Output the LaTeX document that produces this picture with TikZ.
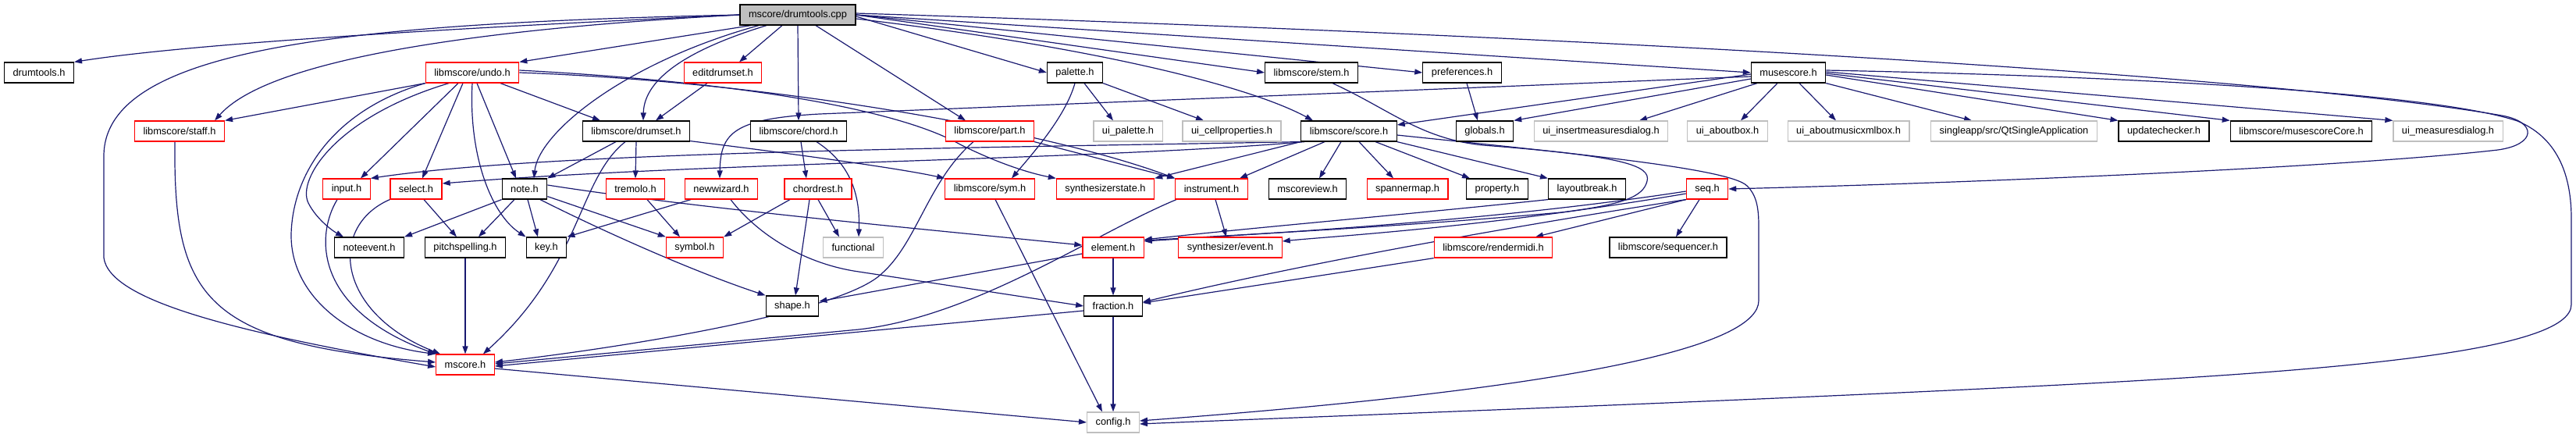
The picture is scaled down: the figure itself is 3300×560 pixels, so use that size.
\documentclass[tikz,border=0pt]{standalone}
\usepackage{fontspec}
\setmainfont{Liberation Sans}
\usetikzlibrary{arrows.meta,backgrounds}
\definecolor{edgec}{HTML}{191970}
\definecolor{gbord}{HTML}{BFBFBF}
\definecolor{rbord}{HTML}{FF0000}
\definecolor{rootfill}{HTML}{BFBFBF}
\tikzset{
  nb/.style={draw=black, fill=white, line width=1.2pt, minimum height=26pt, inner xsep=11pt, inner ysep=0pt, font=\fontsize{12.8}{14}\selectfont},
  nr/.style={nb, draw=rbord},
  ng/.style={nb, draw=gbord},
  rootnode/.style={nb, fill=rootfill},
  e/.style={draw=edgecol, line width=1.2pt, -{Triangle[length=10pt,width=7pt]}},
  edgecol/.code={},
}
\tikzset{e/.style={draw=edgec, line width=1.2pt, -{Triangle[length=10pt,width=7pt]}}}
\begin{document}
\begin{tikzpicture}[x=1pt,y=-1pt]
\useasboundingbox (0,0) rectangle (3300,560);
% row 1
\node[rootnode] (cpp) at (1022,19) {mscore/drumtools.cpp};
% row 2
\node[nb] (dth) at (50,93) {drumtools.h};
\node[nr] (undo) at (605,93) {libmscore/undo.h};
\node[nr] (edit) at (926,93) {editdrumset.h};
\node[nb] (palette) at (1377,93) {palette.h};
\node[nb] (stem) at (1680,93) {libmscore/stem.h};
\node[nb] (pref) at (1873,93) {preferences.h};
\node[nb] (muse) at (2291,93) {musescore.h};
% row 3
\node[nr] (staff) at (230,168) {libmscore/staff.h};
\node[nb] (drumset) at (815,168) {libmscore/drumset.h};
\node[nb] (chord) at (1023,168) {libmscore/chord.h};
\node[nr] (part) at (1268,168) {libmscore/part.h};
\node[ng] (uipal) at (1445,168) {ui\_palette.h};
\node[ng] (uicell) at (1578,168) {ui\_cellproperties.h};
\node[nb] (score) at (1728,168) {libmscore/score.h};
\node[nb] (globals) at (1902,168) {globals.h};
\node[ng] (uiins) at (2051,168) {ui\_insertmeasuresdialog.h};
\node[ng] (uiabout) at (2213,168) {ui\_aboutbox.h};
\node[ng] (uiamx) at (2368,168) {ui\_aboutmusicxmlbox.h};
\node[ng] (qtsa) at (2580,168) {singleapp/src/QtSingleApplication};
\node[nb] (upd) at (2772,168) {updatechecker.h};
\node[nb] (msc) at (2948,168) {libmscore/musescoreCore.h};
\node[ng] (uimeas) at (3136,168) {ui\_measuresdialog.h};
% row 4
\node[nr] (input) at (444,242) {input.h};
\node[nr] (select) at (533,242) {select.h};
\node[nb] (note) at (672,242) {note.h};
\node[nr] (tremolo) at (814,242) {tremolo.h};
\node[nr] (newwiz) at (924,242) {newwizard.h};
\node[nr] (chordrest) at (1048,242) {chordrest.h};
\node[nr] (sym) at (1268,242) {libmscore/sym.h};
\node[nr] (synstate) at (1416,242) {synthesizerstate.h};
\node[nr] (instr) at (1552,242) {instrument.h};
\node[nb] (mscoreview) at (1675,242) {mscoreview.h};
\node[nr] (spanner) at (1803,242) {spannermap.h};
\node[nb] (property) at (1918,242) {property.h};
\node[nb] (layoutbreak) at (2033,242) {layoutbreak.h};
\node[nr] (seq) at (2187,242) {seq.h};
% row 5
\node[nb] (noteevent) at (473,317) {noteevent.h};
\node[nb] (pitch) at (596,317) {pitchspelling.h};
\node[nb] (key) at (700,317) {key.h};
\node[nr] (symbol) at (890,317) {symbol.h};
\node[ng] (functional) at (1093,317) {functional};
\node[nr] (element) at (1426,317) {element.h};
\node[nr] (synevent) at (1576,317) {synthesizer/event.h};
\node[nr] (rendermidi) at (1913,317) {libmscore/rendermidi.h};
\node[nb] (sequencer) at (2137,317) {libmscore/sequencer.h};
% row 6
\node[nb] (shape) at (1015,392) {shape.h};
\node[nb] (fraction) at (1426,392) {fraction.h};
% row 7
\node[nr] (mscore) at (596,467) {mscore.h};
\node[ng] (config) at (1426,541) {config.h};

\begin{pgfonlayer}{background}
% drumtools.cpp
\draw[e] (cpp.west) .. controls (600,35) and (250,55) .. (dth.north east);
\draw[e] (cpp.west) .. controls (650,35) and (350,70) .. ([xshift=-13pt]staff.north east);
\draw[e] (cpp.west) .. controls (450,30) and (133,60) .. (133,200) -- (133,330) .. controls (140,385) and (300,425) .. ([yshift=-3pt]mscore.west);
\draw[e] ([xshift=-60pt]cpp.south) -- (undo.north east);
\draw[e] ([xshift=-50pt]cpp.south) .. controls (800,80) and (690,170) .. ([xshift=12pt]note.north);
\draw[e] ([xshift=-40pt]cpp.south) .. controls (860,70) and (825,110) .. ([xshift=9pt]drumset.north);
\draw[e] ([xshift=-20pt]cpp.south) -- ([xshift=21pt]edit.north);
\draw[e] (cpp.south) -- (chord.north);
\draw[e] ([xshift=23pt]cpp.south) -- ([xshift=-31pt]part.north);
\draw[e] ([yshift=-2pt]cpp.east) -- (palette.west);
\draw[e] (cpp.east) -- (stem.west);
\draw[e] (cpp.east) -- (pref.west);
\draw[e] (cpp.east) -- (muse.west);
\draw[e] ([yshift=-5pt]cpp.east) .. controls (1400,60) and (1600,110) .. ([xshift=-46pt]score.north);
\draw[e] ([yshift=2pt]cpp.east) .. controls (2000,45) and (2900,95) .. (3205,148) .. controls (3250,156) and (3250,185) .. (3200,192) .. controls (3000,215) and (2500,235) .. (seq.east);
% musescore.h
\draw[e] ([yshift=3pt]muse.east) .. controls (2750,98) and (3120,120) .. (3225,155) .. controls (3280,178) and (3294,230) .. (3294,280) -- (3294,390) .. controls (3294,450) and (3000,475) .. (2600,495) .. controls (2200,515) and (1700,533) .. ([yshift=-2pt]config.east);
\draw[e] ([yshift=-5pt]muse.west) -- (1050,146) .. controls (940,152) and (923,170) .. ([xshift=-2pt]newwiz.north);
\draw[e] ([yshift=-2pt]muse.west) -- ([yshift=8pt]score.east);
\draw[e] ([yshift=-8pt]muse.west) -- (globals.north east);
\draw[e] ([xshift=-40pt]muse.south) -- ([xshift=49pt]uiins.north);
\draw[e] ([xshift=-14pt]muse.south) -- ([xshift=17pt]uiabout.north);
\draw[e] ([xshift=14pt]muse.south) -- ([xshift=-16pt]uiamx.north);
\draw[e] (muse.south east) -- ([xshift=-54pt]qtsa.north);
\draw[e] ([yshift=-3pt]muse.east) -- (upd.north west);
\draw[e] ([yshift=-1pt]muse.east) -- (msc.north west);
\draw[e] ([yshift=1pt]muse.east) -- (uimeas.north west);
% undo.h
\draw[e] (undo.south west) -- (staff.north east);
\draw[e] ([xshift=-30pt]undo.south) .. controls (430,150) and (380,230) .. (395,260) .. controls (405,280) and (425,295) .. ([xshift=-33pt]noteevent.north);
\draw[e] (undo.south west) .. controls (430,140) and (375,220) .. (373,300) .. controls (372,380) and (450,440) .. (mscore.north west);
\draw[e] ([xshift=-18pt]undo.south) -- ([xshift=18pt]input.north);
\draw[e] ([xshift=-12pt]undo.south) -- ([xshift=8pt]select.north);
\draw[e] (undo.south) .. controls (600,200) and (630,275) .. (key.north west);
\draw[e] ([xshift=6pt]undo.south) -- ([xshift=-11pt]note.north);
\draw[e] ([xshift=36pt]undo.south) -- ([xshift=-46pt]drumset.north);
\draw[e] ([yshift=3pt]undo.east) .. controls (950,105) and (1150,140) .. (1230,185) .. controls (1280,210) and (1320,222) .. (synstate.north west);
\draw[e] (undo.east) .. controls (1000,105) and (1350,170) .. (instr.north west);
% editdrumset.h
\draw[e] ([xshift=-20pt]edit.south) -- ([xshift=25pt]drumset.north);
% palette.h
\draw[e] (palette.south) .. controls (1365,150) and (1320,200) .. ([xshift=28pt]sym.north);
\draw[e] ([xshift=12pt]palette.south) -- ([xshift=-19pt]uipal.north);
\draw[e] (palette.south east) -- ([xshift=-36pt]uicell.north);
% stem.h
\draw[e] ([xshift=27pt]stem.south) .. controls (1780,140) and (1820,178) .. (1900,186) .. controls (2080,200) and (2115,212) .. (2110,232) .. controls (2105,252) and (2080,262) .. (2000,272) .. controls (1800,290) and (1600,300) .. ([yshift=9pt]element.east);
% preferences.h
\draw[e] ([xshift=6pt]pref.south) -- ([xshift=-9pt]globals.north);
% score.h
\draw[e] (score.south west) .. controls (1200,190) and (700,195) .. (input.north east);
\draw[e] ([xshift=5pt]score.south west) .. controls (1400,205) and (900,208) .. ([yshift=7pt]select.east);
\draw[e] (score.south west) -- (synstate.north east);
\draw[e] ([xshift=-31pt]score.south) -- ([xshift=36pt]instr.north);
\draw[e] ([xshift=-10pt]score.south) -- ([xshift=15pt]mscoreview.north);
\draw[e] ([xshift=13pt]score.south) -- ([xshift=-18pt]spanner.north);
\draw[e] ([xshift=34pt]score.south) -- ([xshift=-35pt]property.north);
\draw[e] (score.south east) -- (layoutbreak.north west);
\draw[e] ([yshift=-5pt]score.east) .. controls (2000,195) and (2215,215) .. (2238,238) .. controls (2250,250) and (2253,265) .. (2253,290) -- (2253,385) .. controls (2253,440) and (2050,495) .. ([yshift=2pt]config.east);
% part.h
\draw[e] (part.south east) -- (instr.north west);
\draw[e] ([xshift=-21pt]part.south) .. controls (1190,230) and (1175,310) .. (1130,350) .. controls (1080,400) and (800,445) .. ([yshift=3pt]mscore.east);
% chord.h
\draw[e] ([xshift=3pt]chord.south) -- ([xshift=-15pt]chordrest.north);
\draw[e] ([xshift=23pt]chord.south) .. controls (1090,210) and (1102,250) .. ([xshift=7pt]functional.north);
% chordrest.h
\draw[e] ([xshift=-36pt]chordrest.south) -- (symbol.north east);
\draw[e] ([xshift=-11pt]chordrest.south) -- ([xshift=4pt]shape.north);
\draw[e] (chordrest.south) -- ([xshift=-18pt]functional.north);
% newwizard.h
\draw[e] ([xshift=-39pt]newwiz.south) -- (key.north east);
\draw[e] ([xshift=12pt]newwiz.south) .. controls (970,300) and (1030,338) .. (1100,348) -- (fraction.west);
% tremolo.h
\draw[e] ([xshift=15pt]tremolo.south) -- ([xshift=-19pt]symbol.north);
% note.h
\draw[e] (note.south west) -- (noteevent.north east);
\draw[e] ([xshift=-13pt]note.south) -- ([xshift=17pt]pitch.north);
\draw[e] ([xshift=4pt]note.south) -- ([xshift=-11pt]key.north);
\draw[e] ([yshift=4pt]note.south east) -- (symbol.north west);
\draw[e] ([xshift=20pt]note.south) .. controls (760,290) and (880,345) .. (shape.north west);
\draw[e] ([yshift=5pt]note.east) .. controls (900,268) and (1200,295) .. ([yshift=3pt]element.west);
% input.h, select.h, pitchspelling.h
\draw[e] ([xshift=-12pt]input.south) .. controls (405,300) and (400,395) .. (mscore.north west);
\draw[e] (select.south west) .. controls (420,290) and (430,400) .. ([xshift=6pt]mscore.north west);
\draw[e] ([xshift=10pt]select.south) -- ([xshift=-11pt]pitch.north);
\draw[e] (pitch.south) -- (mscore.north);
% drumset.h
\draw[e] ([xshift=-26pt]drumset.south) -- (note.north east);
\draw[e] ([xshift=-14pt]drumset.south) .. controls (740,230) and (745,340) .. ([xshift=-15pt]mscore.north east);
\draw[e] (drumset.south) -- (tremolo.north);
\draw[e] ([yshift=1pt]drumset.south east) .. controls (1000,195) and (1150,215) .. (sym.north west);
% staff.h
\draw[e] ([xshift=-6pt]staff.south) .. controls (222,380) and (260,440) .. ([yshift=3pt]mscore.west);
% sym.h
\draw[e] ([xshift=7pt]sym.south) -- ([xshift=-14pt]config.north);
% instrument.h
\draw[e] ([xshift=5pt]instr.south) -- ([xshift=-5pt]synevent.north);
\draw[e] ([xshift=-45pt]instr.south) .. controls (1400,300) and (1250,405) .. (1100,422) -- ([yshift=1pt]mscore.east);
% fraction.h, element.h, mscore.h
\draw[e] ([yshift=-6pt]fraction.west) -- ([yshift=-2pt]mscore.east);
\draw[e] (fraction.south) -- (config.north);
\draw[e] (element.south) -- (fraction.north);
\draw[e] ([yshift=-8pt]element.west) -- ([yshift=6pt]shape.east);
\draw[e] ([yshift=-5pt]mscore.east) -- (config.west);
% layoutbreak.h
\draw[e] (layoutbreak.south west) .. controls (1800,275) and (1600,292) .. ([yshift=10pt]element.east);
% seq.h
\draw[e] ([yshift=-3pt]seq.west) .. controls (1900,285) and (1600,300) .. ([yshift=8pt]element.east);
\draw[e] ([yshift=-6pt]seq.west) .. controls (1900,292) and (1700,303) .. ([yshift=8pt]synevent.east);
\draw[e] (seq.south west) .. controls (2000,280) and (1700,330) .. ([yshift=5pt]fraction.east);
\draw[e] (seq.south west) -- ([xshift=54pt]rendermidi.north);
\draw[e] ([xshift=-10pt]seq.south) -- ([xshift=10pt]sequencer.north);
% rendermidi.h
\draw[e] (rendermidi.south west) -- ([yshift=4pt]fraction.east);
\end{pgfonlayer}
\end{tikzpicture}
\end{document}
